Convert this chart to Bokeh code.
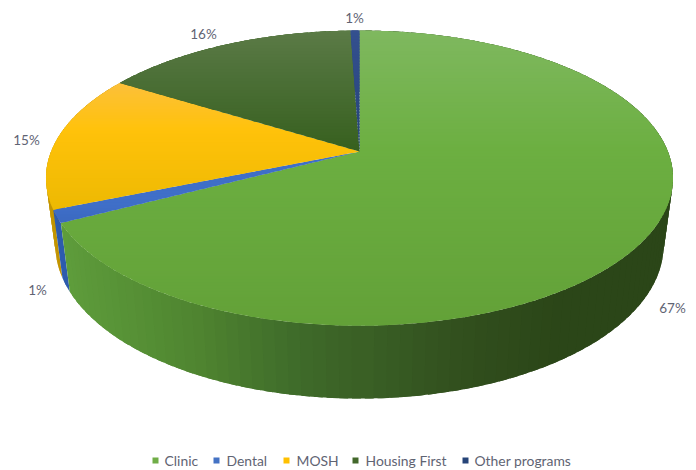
import math
from bokeh.embed import file_html
from bokeh.models import Range1d
from bokeh.plotting import figure
from bokeh.resources import INLINE
from bokeh.core.properties import value

# Program shares, clockwise from twelve o'clock
categories = ["Clinic", "Dental", "MOSH", "Housing First", "Other programs"]
shares = [67.4, 1.4, 15.0, 15.65, 0.55]
share_labels = ["67%", "1%", "15%", "16%", "1%"]
label_x = [672, 37, 26, 203, 354]
label_y = [307, 289, 139, 33, 17]

legend_colors = ["#70AD47", "#4472C4", "#FFC000", "#43682B", "#264478"]
legend_marker_x = [155, 216, 286, 355, 465]
legend_text_x = [164, 226, 296, 365, 474]

# Top-face shading by screen height: (y, colour) stops
top_stops = [
    [(30, "#7FB85F"), (150, "#6CAF41"), (325, "#63A138")],
    [(205, "#3F6FC8"), (225, "#3A67BF")],
    [(83, "#FCC03A"), (130, "#FFC20A"), (210, "#EDB902")],
    [(30, "#5B7B47"), (70, "#4E7139"), (150, "#37601F")],
    [(30, "#34508F"), (150, "#264478")],
]
# Side-wall shading by screen x: (x, colour) stops
wall_stops = [
    [(60, "#5F9E3C"), (200, "#4F8530"), (300, "#3F6B2A"), (450, "#32501E"), (550, "#2B4618"), (672, "#2B4618")],
    [(50, "#2F5FB5"), (70, "#2C58A8")],
    [(45, "#C99A00"), (70, "#B88C00")],
    [(100, "#37601F"), (360, "#37601F")],
    [(340, "#264478"), (360, "#264478")],
]

# Projection of the pie disc onto the page
APEX_X, APEX_Y = 359.0, 151.0
RADIUS = 308.4
PERSP = 0.18
LIFT = -115.6
BASE_APEX_Y = 217.0
BASE_SCALE_X = 0.97
BASE_SCALE_Y = 1.04


def rim(deg):
    a = math.radians(deg)
    u, v = math.cos(a), math.sin(a)
    w = PERSP * u + 1
    return APEX_X + RADIUS * v / w, (LIFT * u + APEX_Y) / w


def base(pt):
    return (APEX_X + (pt[0] - APEX_X) * BASE_SCALE_X,
            BASE_APEX_Y + (pt[1] - APEX_Y) * BASE_SCALE_Y)


def shade(stops, t):
    if t <= stops[0][0]:
        return stops[0][1]
    for (t0, c0), (t1, c1) in zip(stops, stops[1:]):
        if t <= t1:
            f = (t - t0) / (t1 - t0)
            rgb = [round(int(c0[i:i + 2], 16) * (1 - f) + int(c1[i:i + 2], 16) * f) for i in (1, 3, 5)]
            return "#%02X%02X%02X" % tuple(rgb)
    return stops[-1][1]


def clip(poly, y0, keep_below):
    out = []
    inside = (lambda q: q[1] >= y0) if keep_below else (lambda q: q[1] <= y0)
    for a, b in zip(poly, poly[1:] + poly[:1]):
        ia, ib = inside(a), inside(b)
        if ia:
            out.append(a)
        if ia != ib:
            f = (y0 - a[1]) / (b[1] - a[1])
            out.append((a[0] + f * (b[0] - a[0]), y0))
    return out


p = figure(width=696, height=470, output_backend="svg", toolbar_location=None,
           x_range=Range1d(0, 696), y_range=Range1d(470, 0),
           x_axis_location=None, y_axis_location=None, min_border=0)
p.grid.visible = False
p.outline_line_color = None
p.background_fill_color = "#FFFFFF"
p.border_fill_color = "#FFFFFF"

starts = []
acc = 0.0
for s in shares:
    starts.append(acc * 3.6)
    acc += s

# Side wall: overlapping angular strips, painted back to front
OVERLAP_DEG = 0.7
strips = []
for i, s in enumerate(shares):
    a0, span = starts[i], s * 3.6
    n = max(2, int(span / 2))
    for k in range(n):
        a = max(a0, a0 + span * k / n - OVERLAP_DEG)
        b = min(a0 + span, a0 + span * (k + 1) / n + OVERLAP_DEG)
        pts = [rim(a0 + span * k / n + (b - a) * j / 4 - (a0 + span * k / n - a)) for j in range(5)]
        strips.append((sum(q[1] for q in pts), i, pts + [base(q) for q in reversed(pts)]))
strips.sort(key=lambda e: e[0])
p.patches([[q[0] for q in e[2]] for e in strips], [[q[1] for q in e[2]] for e in strips],
          fill_color=[shade(wall_stops[e[1]], sum(q[0] for q in e[2]) / len(e[2])) for e in strips],
          line_color=None)

# Top face: each wedge cut into overlapping horizontal bands for the vertical shading
BAND = 3
BAND_OVERLAP = 1.5
for i, s in enumerate(shares):
    n = max(4, int(s * 3.6))
    wedge = [(APEX_X, APEX_Y)] + [rim(starts[i] + s * 3.6 * k / n) for k in range(n + 1)]
    ys = [q[1] for q in wedge]
    bx, by, bc = [], [], []
    y = math.floor(min(ys))
    while y < max(ys):
        part = clip(wedge, y, True)
        part = clip(part, y + BAND + BAND_OVERLAP, False) if len(part) >= 3 else []
        if len(part) >= 3:
            bx.append([q[0] for q in part])
            by.append([q[1] for q in part])
            bc.append(shade(top_stops[i], y + BAND / 2))
        y += BAND
    p.patches(bx, by, fill_color=bc, line_color=None)

# Percentage labels
p.text(label_x, label_y, text=share_labels, text_font=value("Lato"), text_font_size="13.5px",
       text_color="#5F6473", text_align="center", text_baseline="middle")

# Legend row
p.scatter(legend_marker_x, [460] * 5, marker="square", size=6, fill_color=legend_colors, line_color=None)
p.text(legend_text_x, [460] * 5, text=categories, text_font=value("Lato"), text_font_size="13.9px",
       text_color="#5F6473", text_align="left", text_baseline="middle")

open("out.html", "w").write(file_html(p, INLINE))
